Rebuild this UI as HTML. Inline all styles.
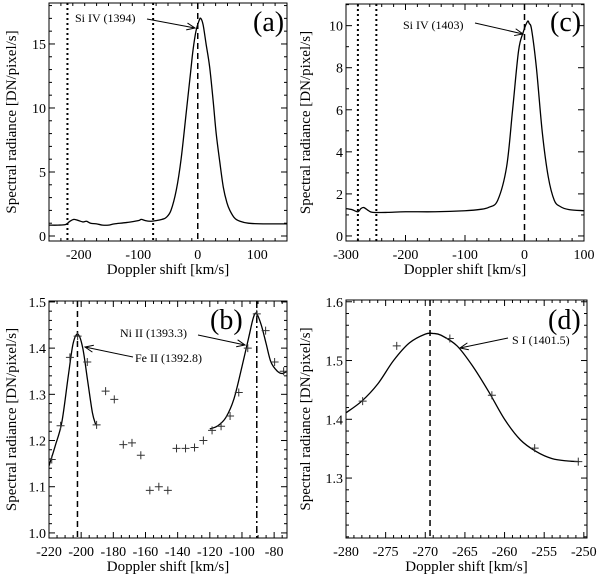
<!DOCTYPE html>
<html><head><meta charset="utf-8"><style>
body{margin:0;background:#fff;}
svg{display:block;font-family:"Liberation Serif",serif;}
</style></head><body>
<svg id="fig" width="600" height="578" viewBox="0 0 600 578" xmlns="http://www.w3.org/2000/svg"></svg>
<script>
// ---- data ----
const aLineX=[-250,-235,-222,-215,-208,-200,-193,-187,-180,-170,-160,-150,-140,-120,-100,-95,-88,-80,-70,-60,-53,-45,-36,-28,-19,-12,-8,-3,2,5,9,14,20,26,31,37,43,49,54,62,71,85,110,150];
const aLineY=[0.85,0.85,0.9,1.15,1.3,1.2,1.1,1.15,1.0,0.95,0.85,0.85,0.95,1.05,1.2,1.3,1.2,1.15,1.2,1.3,1.45,2.0,3.6,6.0,9.8,12.8,14.5,16.0,16.8,17.0,16.5,15.0,13.2,10.5,8.0,5.8,3.8,2.6,2.0,1.4,1.15,1.0,0.95,0.95];
const cLineX=[-300,-290,-280,-275,-270,-262,-255,-230,-200,-150,-100,-75,-60,-45,-30,-20,-10,-2,5,8,12,20,30,40,50,60,75,100];
const cLineY=[1.3,1.25,1.15,1.3,1.35,1.2,1.12,1.12,1.15,1.15,1.2,1.26,1.36,1.7,3.3,6.0,8.8,9.7,10.2,10.1,9.8,8.0,4.9,2.8,1.7,1.4,1.25,1.2];
const bPtsX=[-218.3,-212.8,-207,-202.2,-196.2,-190.4,-184.8,-179.4,-173.8,-168.4,-162.9,-157.3,-151.7,-146.1,-140.7,-135.1,-129.5,-124,-118.6,-113,-107.4,-102,-96.4,-90.8,-85.3,-79.7,-74.1];
const bPtsY=[1.159,1.232,1.380,1.426,1.370,1.234,1.307,1.289,1.191,1.195,1.168,1.092,1.10,1.092,1.183,1.183,1.185,1.20,1.222,1.231,1.253,1.304,1.40,1.474,1.438,1.37,1.35];
const bFitLX=[-220,-216,-212,-208,-205,-202,-199,-196,-193,-191];
const bFitLY=[1.145,1.19,1.24,1.34,1.41,1.43,1.40,1.33,1.26,1.235];
const bFitRX=[-120,-115,-110,-105,-100,-96,-93,-91,-88,-85,-82,-78,-75,-72];
const bFitRY=[1.225,1.232,1.25,1.29,1.36,1.42,1.465,1.475,1.45,1.41,1.37,1.35,1.345,1.35];
const dPtsX=[-277.9,-273.6,-266.9,-261.6,-256.2,-250.7];
const dPtsY=[1.431,1.525,1.5375,1.441,1.351,1.328];
const dFitX=[-280,-278,-276,-274,-272,-270,-269,-268,-266,-264,-262,-260,-258,-256,-254,-252,-250.6];
const dFitY=[1.411,1.431,1.46,1.50,1.53,1.545,1.546,1.543,1.525,1.49,1.447,1.40,1.365,1.345,1.333,1.329,1.328];
const aTicksX=[-200,-100,0,100], aTicksY=[0,5,10,15];
const cTicksX=[-300,-200,-100,0,100], cTicksY=[0,2,4,6,8,10];
const bTicksX=[-220,-200,-180,-160,-140,-120,-100,-80], bTicksY=["1.0","1.1","1.2","1.3","1.4","1.5"];
const dTicksX=[-280,-275,-270,-265,-260,-255,-250], dTicksY=["1.3","1.4","1.5","1.6"];

const NS="http://www.w3.org/2000/svg";
const svg=document.getElementById('fig');
function el(tag,attrs,parent,text){const e=document.createElementNS(NS,tag);for(const k in attrs)e.setAttribute(k,attrs[k]);if(text!==undefined)e.textContent=text;(parent||svg).appendChild(e);return e;}
function smooth(pts){let d="M"+pts[0][0]+","+pts[0][1];for(let i=0;i<pts.length-1;i++){const p0=pts[i-1]||pts[i],p1=pts[i],p2=pts[i+1],p3=pts[i+2]||p2;d+=" C"+(p1[0]+(p2[0]-p0[0])/6)+","+(p1[1]+(p2[1]-p0[1])/6)+" "+(p2[0]-(p3[0]-p1[0])/6)+","+(p2[1]-(p3[1]-p1[1])/6)+" "+p2[0]+","+p2[1];}return d;}

function panel(o){
  const g=el('g',{});
  
  
  const sx=v=>o.x0+(v-o.xmin)/(o.xmax-o.xmin)*(o.x1-o.x0);
  const sy=v=>o.y1-(v-o.ymin)/(o.ymax-o.ymin)*(o.y1-o.y0);
  const clipId=o.name+'-clip';
  const cp=el('clipPath',{id:clipId},g);el('rect',{x:o.x0,y:o.y0,width:o.x1-o.x0,height:o.y1-o.y0},cp);
  const fr=el('rect',{x:o.x0,y:o.y0,width:o.x1-o.x0,height:o.y1-o.y0,fill:'none',stroke:'#000','stroke-width':1},g);
  
  
  for(let v=o.xmin;v<=o.xmax+1e-9;v+=o.xminor){const X=sx(v);const major=o.xt.some(t=>Math.abs(+t-v)<1e-6);const L=major?6:3;
    el('line',{x1:X,y1:o.y1,x2:X,y2:o.y1-L,stroke:'#000'},g);el('line',{x1:X,y1:o.y0,x2:X,y2:o.y0+L,stroke:'#000'},g);}
  for(let v=Math.ceil(o.ymin/o.yminor)*o.yminor;v<=o.ymax+1e-9;v+=o.yminor){const Y=sy(v);const major=o.yt.some(t=>Math.abs(+t-v)<1e-6);const L=major?6:3;
    el('line',{x1:o.x0,y1:Y,x2:o.x0+L,y2:Y,stroke:'#000'},g);el('line',{x1:o.x1,y1:Y,x2:o.x1-L,y2:Y,stroke:'#000'},g);}
  o.xt.forEach(t=>{const e=el('text',{x:sx(+t),y:o.y1+18,'font-size':14,'text-anchor':'middle'},g,t);
    
    });
  o.yt.forEach(t=>{const e=el('text',{x:o.x0-3,y:sy(+t)+5,'font-size':14,'text-anchor':'end'},g,t);
    
    });
  const xt=el('text',{x:(o.x0+o.x1)/2,y:o.y1+33,'font-size':15,'text-anchor':'middle'},g,'Doppler shift [km/s]');
  
  
  const yc=(o.y0+o.y1)/2, yx=o.ytx;
  const yt=el('text',{x:yx,y:yc,'font-size':15,'text-anchor':'middle',transform:`rotate(-90 ${yx} ${yc})`},g,'Spectral radiance [DN/pixel/s]');
  
  
  const inner=el('g',{'clip-path':`url(#${clipId})`},g);
  (o.vlines||[]).forEach(v=>{const l=el('line',{x1:sx(v.x),y1:o.y0,x2:sx(v.x),y2:o.y1,stroke:'#000','stroke-width':v.w||1.5,'stroke-dasharray':v.dash},inner);
    
    });
  (o.lines||[]).forEach(L=>{const p=el('path',{d:smooth(L.xs.map((x,i)=>[sx(x),sy(L.ys[i])])),fill:'none',stroke:'#000','stroke-width':1.3},inner);
    
    });
  if(o.pts){o.pts.xs.forEach((x,i)=>{const X=sx(x),Y=sy(o.pts.ys[i]);
    const m=el('path',{d:`M${X-4},${Y}H${X+4}M${X},${Y-4}V${Y+4}`,stroke:'#333','stroke-width':1},inner);
    
    });}
  (o.notes||[]).forEach(n=>{const t=el('text',{x:n.x,y:n.y,'font-size':n.fs||12,'text-anchor':n.anchor||'start'},g,n.text);
    
    
    if(n.arrow){const [x1,y1,x2,y2]=n.arrow;el('line',{x1,y1,x2,y2,stroke:'#000'},g);
      const a=Math.atan2(y2-y1,x2-x1),h=9,w=0.4;
      el('path',{d:`M${x2-h*Math.cos(a-w)},${y2-h*Math.sin(a-w)}L${x2},${y2}L${x2-h*Math.cos(a+w)},${y2-h*Math.sin(a+w)}`,fill:'none',stroke:'#000'},g);}});
}

panel({name:'panel-a',x0:49,x1:287,y0:3,y1:241,xmin:-250,xmax:150,ymin:-0.39,ymax:18.2,xt:aTicksX,yt:aTicksY,xminor:20,yminor:1,ytx:16,
  lines:[{name:'si-iv-1394-profile',xs:aLineX,ys:aLineY}],
  vlines:[{x:0,dash:'6,4',name:'rest-line'},{x:-219,dash:'2,3',w:2,name:'window-start'},{x:-75,dash:'2,3',w:2,name:'window-end'}],
  notes:[{text:'Si IV (1394)',x:75,y:22,name:'si-iv-1394-label',arrow:[147,19,195,28]},{text:'(a)',x:253,y:31,fs:28,name:'panel-a-label'}]});
panel({name:'panel-c',x0:346,x1:584,y0:4,y1:241,xmin:-300,xmax:100,ymin:-0.24,ymax:11.03,xt:cTicksX,yt:cTicksY,xminor:20,yminor:1,ytx:310,
  lines:[{name:'si-iv-1403-profile',xs:cLineX,ys:cLineY}],
  vlines:[{x:0,dash:'6,4',name:'rest-line'},{x:-280,dash:'2,3',w:2,name:'window-start'},{x:-249,dash:'2,3',w:2,name:'window-end'}],
  notes:[{text:'Si IV (1403)',x:403,y:29,name:'si-iv-1403-label',arrow:[475,23,523,34]},{text:'(c)',x:550,y:31,fs:28,name:'panel-c-label'}]});
panel({name:'panel-b',x0:49,x1:287,y0:301,y1:538,xmin:-220,xmax:-72,ymin:0.989,ymax:1.502,xt:bTicksX,yt:bTicksY,xminor:5,yminor:0.02,ytx:16,
  lines:[{name:'fe-ii-fit',xs:bFitLX,ys:bFitLY},{name:'ni-ii-fit',xs:bFitRX,ys:bFitRY}],
  pts:{xs:bPtsX,ys:bPtsY},
  vlines:[{x:-202.3,dash:'6,4',name:'fe-ii-line'},{x:-90.8,dash:'7,3,2,3',name:'ni-ii-line'}],
  notes:[{text:'Ni II (1393.3)',x:120,y:337,name:'ni-ii-label',arrow:[198,335,245,345]},
         {text:'Fe II (1392.8)',x:135,y:362,name:'fe-ii-label',arrow:[133,357,85,347]},
         {text:'(b)',x:210,y:329,fs:28,name:'panel-b-label'}]});
panel({name:'panel-d',x0:346,x1:587,y0:300,y1:538,xmin:-280,xmax:-249.6,ymin:1.198,ymax:1.603,xt:dTicksX,yt:dTicksY,xminor:1,yminor:0.02,ytx:310,
  lines:[{name:'s-i-fit',xs:dFitX,ys:dFitY}],
  pts:{xs:dPtsX,ys:dPtsY},
  vlines:[{x:-269.4,dash:'6,4',name:'s-i-line'}],
  notes:[{text:'S I (1401.5)',x:512,y:344,name:'s-i-label',arrow:[508,338,460,348]},{text:'(d)',x:548,y:329,fs:28,name:'panel-d-label'}]});
</script>
</body></html>
